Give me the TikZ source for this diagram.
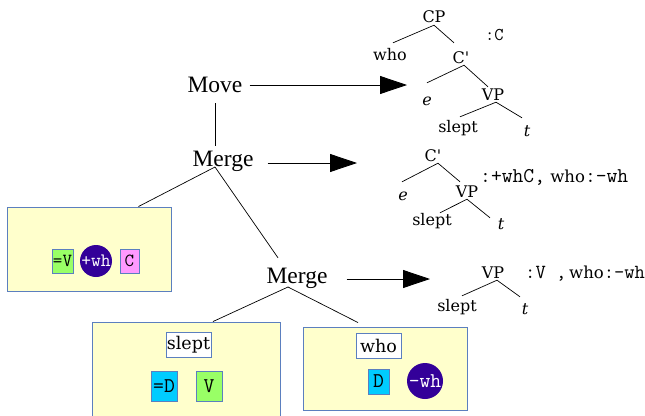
\documentclass[tikz,border=0pt]{standalone}
\usepackage{fontspec}
\setmainfont{Liberation Serif}
\newfontfamily\treefont{DejaVu Serif}
\usetikzlibrary{arrows.meta}

\definecolor{lexfill}{HTML}{FFFFCC}
\definecolor{lexline}{HTML}{5B7FBF}
\definecolor{selgreen}{HTML}{99FF66}
\definecolor{catcyan}{HTML}{00CCFF}
\definecolor{licpink}{HTML}{FF99FF}
\definecolor{movindigo}{HTML}{330099}

\newcommand\wordfont{\treefont\fontsize{16.5}{18}\selectfont}
\newcommand\featfont{\ttfamily\fontsize{21}{23}\selectfont}

\begin{document}
\begin{tikzpicture}[x=1pt,y=-1pt,
  op/.style={font=\fontsize{23.5}{25}\selectfont, inner sep=0pt,
    text height=16pt, text depth=5pt, anchor=base},
  tnode/.style={font=\treefont\fontsize{16}{18}\selectfont, inner sep=0pt,
    text height=12pt, text depth=2pt, anchor=base},
  tlabel/.style={font=\featfont, inner sep=0pt, anchor=base west},
  edge/.style={line width=0.7pt},
  bigarrow/.style={line width=0.8pt, -{Triangle[length=27pt,width=18pt]}},
  lexbox/.style={draw=lexline, fill=lexfill, line width=0.9pt, inner sep=0pt},
  feat/.style={draw=lexline, line width=0.6pt, inner sep=0pt,
    font=\ttfamily\fontsize{21}{23}\selectfont},
  smallfeat/.style={feat, font=\ttfamily\fontsize{18.5}{20}\selectfont},
  licensor/.style={circle, fill=movindigo, text=white, inner sep=0pt},
  word/.style={draw=lexline, fill=white, line width=0.6pt, inner sep=0pt,
    minimum width=45pt, minimum height=25pt,
    font=\treefont\fontsize{17.5}{19}\selectfont}
]
\useasboundingbox (0,0) rectangle (645,415);

% lexical item C with selector =V and licensor +wh
\node[lexbox, minimum width=164pt, minimum height=84pt] (lexC) at (89,249) {};
\node[smallfeat, fill=selgreen, minimum width=21pt, minimum height=24pt] (selV) at (62.5,261) {=V};
\node[licensor, minimum size=32pt, font=\ttfamily\fontsize{19}{20}\selectfont] (licwh) at (96,261) {+wh};
\node[smallfeat, fill=licpink, minimum width=19pt, minimum height=24pt] (catC) at (129.5,261) {C};

% lexical item "slept"
\node[lexbox, minimum width=188pt, minimum height=110pt] (lexslept) at (186,377) {};
\node[word] (wslept) at (188.5,344.5) {slept};
\node[feat, fill=catcyan, minimum width=26pt, minimum height=30pt] (selD) at (164,386) {=D};
\node[feat, fill=selgreen, minimum width=26pt, minimum height=30pt] (catV) at (209,386) {V};

% lexical item "who"
\node[lexbox, minimum width=164pt, minimum height=83pt] (lexwho) at (385,368.5) {};
\node[word] (wwho) at (378.5,345.5) {who};
\node[feat, fill=catcyan, minimum width=21pt, minimum height=25pt] (catD) at (378.5,381.5) {D};
\node[licensor, minimum size=36pt, font=\ttfamily\fontsize{21}{22}\selectfont] (licewh) at (425,381) {-wh};

% derivation steps
\node[op] (move) at (215,92) {Move};
\node[op] (merge1) at (223,166) {Merge};
\node[op] (merge2) at (297,283) {Merge};

\path (move.south |- merge1.north) coordinate (mvjoin);
\draw[edge] ([yshift=-6pt]move.south) -- ([yshift=4pt]mvjoin);

\coordinate (join1) at ([shift={(-8pt,-1pt)}]merge1.base);
\coordinate (join2) at ([shift={(-9pt,-4pt)}]merge2.base);
\draw[edge] (join1) -- ([xshift=-33pt]lexC.north east);
\draw[edge] (join1) -- ([shift={(-19pt,9pt)}]merge2.north);
\draw[edge] (join2) -- ([xshift=27pt]lexslept.north);
\draw[edge] (join2) -- ([shift={(-27pt,4pt)}]lexwho.north);

% arrows to the resulting trees
\coordinate (tip1) at (407,85);
\coordinate (tip2) at (357,163);
\coordinate (tip3) at (430,279);
\draw[bigarrow, shorten <=7pt] (move.east |- tip1) -- (tip1);
\draw[bigarrow, shorten <=14pt] (merge1.east |- tip2) -- (tip2);
\draw[bigarrow, shorten <=19pt] (merge2.east |- tip3) -- (tip3);

% tree after Move
\node[tnode] (cp) at (434,23) {CP};
\node[tnode] (who1) at (390,60) {who};
\node[tnode] (cbar1) at (461,63) {C\textquotesingle};
\node[tnode] (e1) at (427,105) {\itshape e};
\node[tnode] (vp1) at (493,100) {VP};
\node[tnode] (slept1) at (458,132) {slept};
\node[tnode] (tr1) at (527,136) {\itshape t};
\node[tlabel, font=\ttfamily\fontsize{18}{20}\selectfont] (feat1) at (485,40) {:C};
\draw[edge] (cp.south) -- ([shift={(3pt,5pt)}]who1.north);
\draw[edge] (cp.south) -- ([shift={(-7pt,8pt)}]cbar1.north);
\draw[edge] ([xshift=3pt]cbar1.south) -- ([yshift=10pt]e1.north);
\draw[edge] ([xshift=3pt]cbar1.south) -- ([shift={(-5pt,1pt)}]vp1.north);
\draw[edge] ([xshift=3pt]vp1.south) -- ([shift={(2pt,3pt)}]slept1.north);
\draw[edge] ([xshift=3pt]vp1.south) -- ([shift={(-5pt,6pt)}]tr1.north);

% tree after the first Merge
\node[tnode] (cbar2) at (433,161) {C\textquotesingle};
\node[tnode] (e2) at (403,200) {\itshape e};
\node[tnode] (vp2) at (467,197) {VP};
\node[tnode] (slept2) at (432,225) {slept};
\node[tnode] (tr2) at (501,229) {\itshape t};
\node[tlabel] (feat2) at (480,182) {:+whC,{\wordfont\ who}:-wh};
\draw[edge] ([xshift=5pt]cbar2.south) -- ([shift={(-1pt,6pt)}]e2.north);
\draw[edge] ([xshift=5pt]cbar2.south) -- ([shift={(-7pt,3pt)}]vp2.north);
\draw[edge] (vp2.south) -- ([xshift=8pt]slept2.north);
\draw[edge] (vp2.south) -- ([shift={(-11pt,-1pt)}]tr2.north);

% tree after the second Merge
\node[tnode] (vp3) at (493,278) {VP};
\node[tnode] (slept3) at (457,311) {slept};
\node[tnode] (tr3) at (525,314) {\itshape t};
\node[tlabel, font=\ttfamily\fontsize{20}{22}\selectfont] (feat3) at (525,278) {:V\ ,{\wordfont\,who}:-wh};
\draw[edge] ([xshift=4pt]vp3.south) -- ([shift={(5pt,3pt)}]slept3.north);
\draw[edge] ([xshift=4pt]vp3.south) -- ([shift={(-5pt,5pt)}]tr3.north);
\end{tikzpicture}
\end{document}
